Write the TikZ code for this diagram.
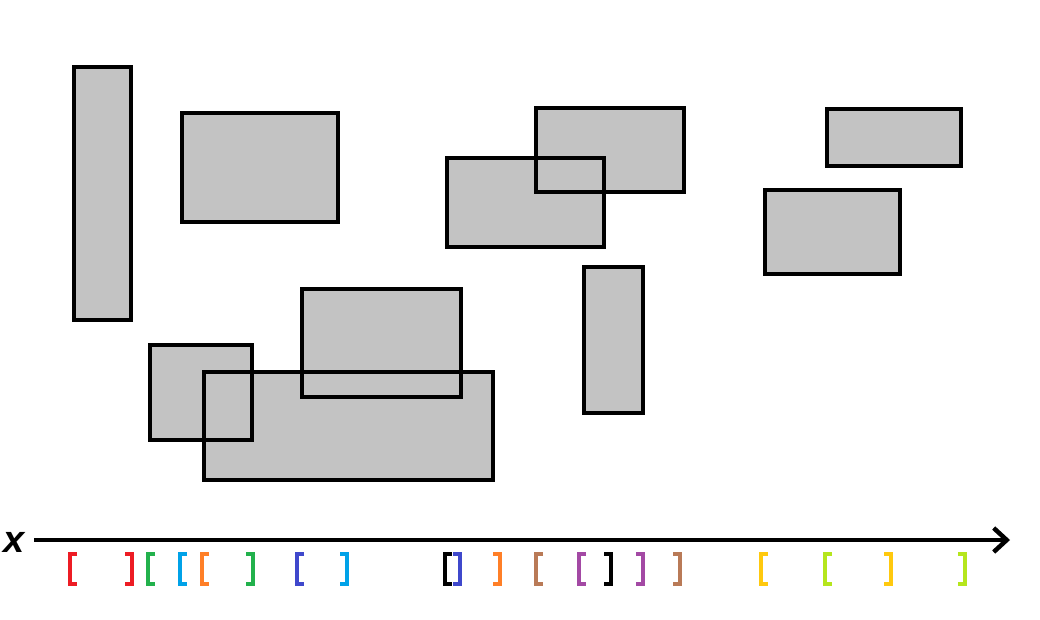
\documentclass[tikz,border=0pt]{standalone}
\usepackage{fontspec}
\setmainfont{Liberation Sans}
\usetikzlibrary{arrows.meta}
\definecolor{boxgray}{HTML}{C3C3C3}
\definecolor{pred}{HTML}{ED1C24}
\definecolor{pgreen}{HTML}{22B14C}
\definecolor{pcyan}{HTML}{00A2E8}
\definecolor{porange}{HTML}{FF7F27}
\definecolor{pblue}{HTML}{3F48CC}
\definecolor{pbrown}{HTML}{B97A57}
\definecolor{ppurple}{HTML}{A349A4}
\definecolor{pyellow}{HTML}{FFC90E}
\definecolor{plime}{HTML}{B5E61D}
\tikzstyle{boxfill} = [fill=boxgray]
\tikzstyle{boxline} = [draw=black, line width=4pt]
\tikzstyle{brk} = [line width=3.5pt]
\tikzstyle{axis} = [line width=4.5pt, -{Straight Barb[length=13pt, width=24pt]}]

\begin{document}
\begin{tikzpicture}[x=1pt, y=-1pt]
	\useasboundingbox (0,0) rectangle (1040,619);

	% rectangles: left/top/right/bottom
	\foreach \l/\t/\r/\b in {74/67/131/320, 182/113/338/222, 447/158/604/247, 536/108/684/192,
		827/109/961/166, 765/190/900/274, 584/267/643/413, 302/289/461/397,
		150/345/252/440, 204/372/493/480}{
		\fill[boxfill] (\l,\t) rectangle (\r,\b);
	}
	\foreach \l/\t/\r/\b in {74/67/131/320, 182/113/338/222, 447/158/604/247, 536/108/684/192,
		827/109/961/166, 765/190/900/274, 584/267/643/413, 302/289/461/397,
		150/345/252/440, 204/372/493/480}{
		\draw[boxline] (\l,\t) rectangle (\r,\b);
	}

	% axis
	\node[inner sep=0pt] (xlab) at (15,542) {\fontsize{38}{42}\selectfont\textbf{\textit{x}}};
	\coordinate (axstart) at (34,540);
	\coordinate (axend) at (1010,540);
	\draw[axis] (axstart) -- (axend);

	% interval brackets: left/right/colour
	\foreach \a\b\c in {68/134/pred, 146/255/pgreen, 178/349/pcyan, 200/502/porange,
		295/462/pblue, 443/613/black, 534/682/pbrown, 577/645/ppurple,
		759/893/pyellow, 823/967/plime}{
		\draw[brk, \c] (\a+9,554) -- (\a+2,554) -- (\a+2,584) -- (\a+9,584);
		\draw[brk, \c] (\b-9,554) -- (\b-2,554) -- (\b-2,584) -- (\b-9,584);
	}
\end{tikzpicture}
\end{document}
